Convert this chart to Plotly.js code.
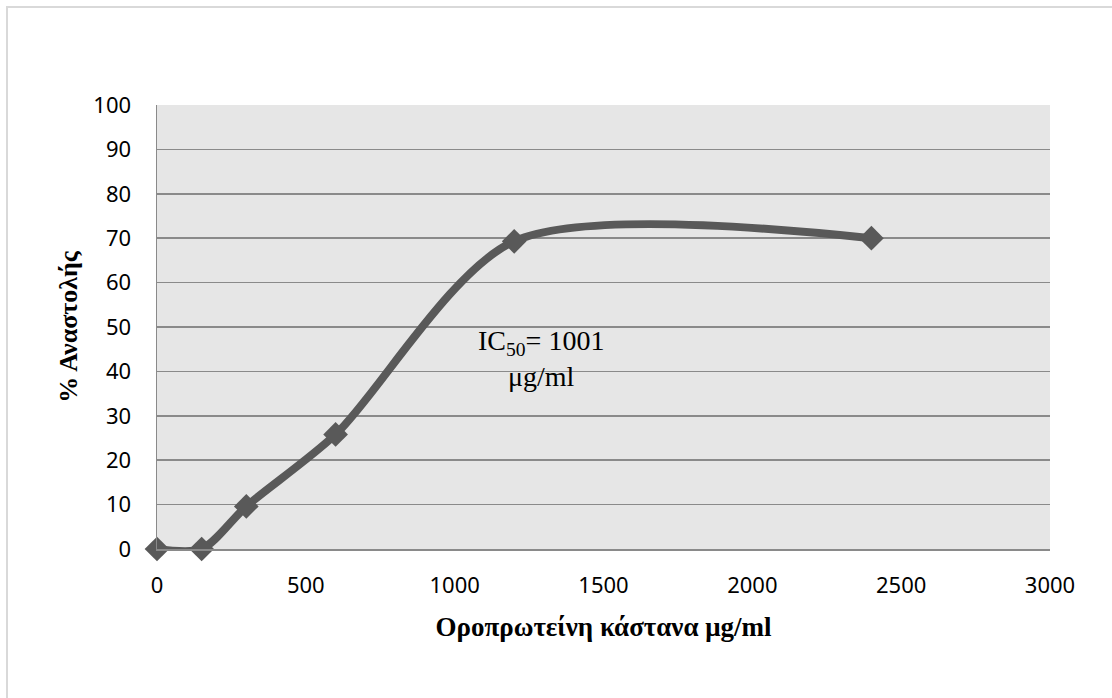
<!DOCTYPE html>
<html>
<head>
<meta charset="utf-8">
<script src="https://cdn.plot.ly/plotly-3.0.1.min.js"></script>
<style>
  html, body { margin: 0; padding: 0; background: #ffffff; }
  #wrap { position: relative; width: 1112px; height: 698px; overflow: hidden; }
  #chart { width: 1112px; height: 698px; }
  #frame {
    position: absolute; left: 6px; top: 6px; width: 1300px; height: 900px;
    border-left: 2px solid #d9d9d9; border-top: 2px solid #d9d9d9;
    pointer-events: none;
  }
</style>
</head>
<body>
<div id="wrap">
  <div id="chart"></div>
  <div id="frame"></div>
</div>
<script>
// Whey protein concentration (μg/ml) vs. % inhibition
const concentration = [0, 150, 300, 600, 1200, 2400];
const inhibition = [0, 0, 9.6, 25.8, 69.3, 70.0];

const xTitle = 'Οροπρωτείνη κάστανα μg/ml';
const yTitle = '% Αναστολής';
const ic50Label = 'IC<sub>50</sub>= 1001<br>μg/ml';

const ink = '#595959';
const gridColor = '#8a8a8a';

const trace = {
  x: concentration,
  y: inhibition,
  type: 'scatter',
  mode: 'lines+markers',
  line: { color: ink, width: 8, shape: 'spline', smoothing: 0.8 },
  marker: { symbol: 'diamond', size: 19, color: ink },
  cliponaxis: false,
  hoverinfo: 'x+y'
};

const layout = {
  width: 1112,
  height: 698,
  margin: { l: 157, r: 62, t: 105, b: 149 },
  paper_bgcolor: '#ffffff',
  plot_bgcolor: '#e6e6e6',
  showlegend: false,
  xaxis: {
    range: [0, 3000],
    tickvals: [0, 500, 1000, 1500, 2000, 2500, 3000],
    showgrid: false,
    zeroline: false,
    showline: true,
    linecolor: gridColor,
    linewidth: 1.5,
    ticks: '',
    ticklabelstandoff: 16,
    tickfont: { family: 'Noto Sans, sans-serif', size: 22, color: '#000000' },
    title: {
      text: xTitle,
      standoff: 19,
      font: { family: 'Liberation Serif, Times New Roman, serif', size: 27, color: '#000000', weight: 'bold' }
    }
  },
  yaxis: {
    range: [0, 100],
    dtick: 10,
    showgrid: true,
    gridcolor: gridColor,
    gridwidth: 1.5,
    zeroline: false,
    showline: true,
    linecolor: gridColor,
    linewidth: 1.5,
    ticks: '',
    ticklabelstandoff: 20,
    tickfont: { family: 'Noto Sans, sans-serif', size: 22, color: '#000000' },
    title: {
      text: yTitle,
      standoff: 8,
      font: { family: 'Liberation Serif, Times New Roman, serif', size: 26, color: '#000000', weight: 'bold' }
    }
  },
  annotations: [{
    x: 1290, y: 43, xref: 'x', yref: 'y',
    text: ic50Label,
    showarrow: false,
    align: 'center',
    font: { family: 'Liberation Serif, Times New Roman, serif', size: 28, color: '#000000' }
  }]
};

Plotly.newPlot('chart', [trace], layout, { displayModeBar: false, staticPlot: true });
</script>
</body>
</html>
